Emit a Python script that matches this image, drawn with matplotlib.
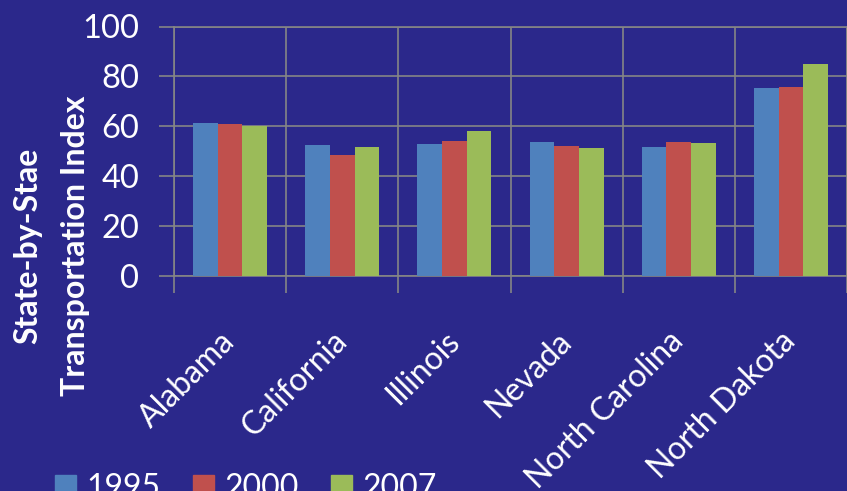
import numpy as np
import matplotlib
matplotlib.use('Agg')
import matplotlib.pyplot as plt
from matplotlib.patches import Patch

plt.rcParams['font.family'] = ['Lato', 'DejaVu Sans']

states = ["Alabama", "California", "Illinois", "Nevada", "North Carolina", "North Dakota"]
years = ["1995", "2000", "2007"]
v1995 = [61.2, 52.5, 53.0, 53.8, 51.7, 75.2]
v2000 = [60.9, 48.3, 53.9, 52.1, 53.7, 75.9]
v2007 = [60.2, 51.5, 58.1, 51.4, 53.1, 85.0]
colors = ["#4F81BD", "#C0504D", "#9BBB59"]
bg = "#2B288B"
grid = "#858585"

fig = plt.figure(figsize=(8.47, 4.91), dpi=100, facecolor=bg)
ax = fig.add_axes([174/847, 1-275.5/491, 1-174/847, 249/491])
ax.set_facecolor(bg)

x = np.arange(len(states))
w = 0.22
for i, vals in enumerate([v1995, v2000, v2007]):
    ax.bar(x + (i-1)*w, vals, w, color=colors[i], zorder=3)

ax.set_xlim(-0.5, len(states)-0.5)
ax.set_ylim(0, 100)
ax.set_yticks(range(0, 101, 20))
ax.yaxis.grid(True, color=grid, lw=1.2, zorder=1)
ax.set_xticks(np.arange(-0.5, len(states), 1), minor=True)
ax.xaxis.grid(True, which='minor', color=grid, lw=1.2, zorder=1)
ax.set_xticks(x)
ax.set_xticklabels(states, rotation=45, ha='right', va='center', rotation_mode='anchor')
ax.tick_params(axis='x', which='major', length=0, pad=44, labelsize=23, labelcolor='white')
ax.tick_params(axis='x', which='minor', length=12, width=1.2, color=grid)
ax.tick_params(axis='y', length=11, width=1.2, color=grid, pad=14, labelsize=23.5, labelcolor='white')
for s in ax.spines.values():
    s.set_color(grid)
    s.set_linewidth(1.2)

fig.text(28/847, 1-246/491, "State-by-Stae", rotation=90, color='white',
         fontsize=23, fontweight='bold', ha='center', va='center')
fig.text(75/847, 1-246/491, "Transportation Index", rotation=90, color='white',
         fontsize=23, fontweight='bold', ha='center', va='center')

handles = [Patch(color=c) for c in colors]
fig.legend(handles, years, loc='center left', bbox_to_anchor=(26/847, 1-488/491),
           ncol=3, frameon=False, fontsize=23, labelcolor='white',
           handlelength=0.65, handleheight=0.65, handletextpad=0.35, columnspacing=1.0)

fig.savefig("out.png", dpi=100, facecolor=bg)
